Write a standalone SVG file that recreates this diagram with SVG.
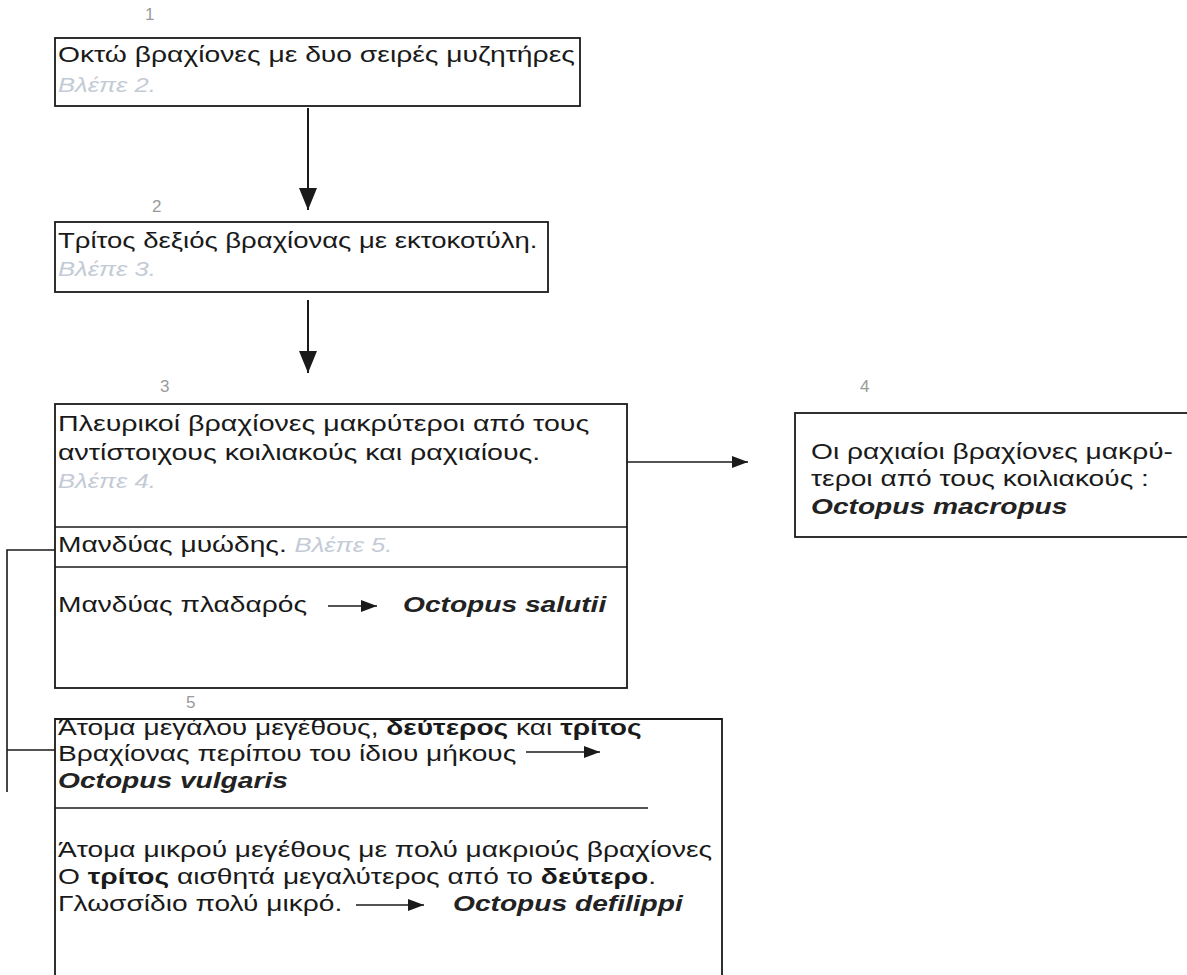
<svg xmlns="http://www.w3.org/2000/svg" width="1187" height="975" viewBox="0 0 1187 975">
<style>
text{font-family:"Liberation Sans",Arial,sans-serif;fill:#1a1a1a;font-size:22px}
.num{fill:#9a9a9a;font-size:17px}
.ref{fill:#c3cbd6;font-style:italic;font-size:20px}
.sp{font-weight:bold;font-style:italic;fill:#222}
.b{font-weight:bold}
.box{fill:none;stroke:#1a1a1a;stroke-width:1.8}
.ln{fill:none;stroke:#1a1a1a;stroke-width:1.6}
.vln{fill:none;stroke:#1a1a1a;stroke-width:2}
</style>
<defs>
<marker id="big" viewBox="0 0 22 18" refX="22" refY="9" markerWidth="22" markerHeight="18" markerUnits="userSpaceOnUse" orient="auto">
<path d="M0,0 L22,9 L0,18 Z" fill="#1a1a1a"/>
</marker>
<marker id="sm" viewBox="0 0 16 12" refX="16" refY="6" markerWidth="16" markerHeight="12" markerUnits="userSpaceOnUse" orient="auto">
<path d="M0,0 L16,6 L0,12 Z" fill="#1a1a1a"/>
</marker>
</defs>
<rect width="1187" height="975" fill="#fff"/>
<g id="node1">
<text class="num" x="145" y="20">1</text>
<rect class="box" x="55" y="38" width="525" height="68"/>
<text transform="translate(58,62) scale(1.285,1)">Οκτώ βραχίονες με δυο σειρές μυζητήρες</text>
<text class="ref" transform="translate(58,92) scale(1.28,1)">Βλέπε 2.</text>
</g>
<g id="node2">
<text class="num" x="152" y="212">2</text>
<rect class="box" x="55" y="222" width="493" height="70"/>
<text transform="translate(58,248) scale(1.25,1)">Τρίτος δεξιός βραχίονας με εκτοκοτύλη.</text>
<text class="ref" transform="translate(58,276) scale(1.28,1)">Βλέπε 3.</text>
</g>
<g id="node3">
<text class="num" x="160" y="392">3</text>
<rect class="box" x="55" y="404" width="572" height="284"/>
<line class="ln" x1="55" y1="527" x2="627" y2="527"/>
<line class="ln" x1="55" y1="567" x2="627" y2="567"/>
<text transform="translate(58,431) scale(1.3,1)">Πλευρικοί βραχίονες μακρύτεροι από τους</text>
<text transform="translate(58,460) scale(1.3,1)">αντίστοιχους κοιλιακούς και ραχιαίους.</text>
<text class="ref" transform="translate(58,488) scale(1.28,1)">Βλέπε 4.</text>
<text transform="translate(58,552) scale(1.28,1)">Μανδύας μυώδης. <tspan class="ref">Βλέπε 5.</tspan></text>
<text transform="translate(58,612) scale(1.28,1)">Μανδύας πλαδαρός</text>
<text class="sp" transform="translate(403,612) scale(1.28,1)">Octopus salutii</text>
</g>
<g id="node4">
<text class="num" x="860" y="392">4</text>
<rect class="box" x="795" y="413" width="400" height="124"/>
<text transform="translate(811,459) scale(1.28,1)">Οι ραχιαίοι βραχίονες μακρύ-</text>
<text transform="translate(811,486) scale(1.28,1)">τεροι  από τους κοιλιακούς :</text>
<text class="sp" transform="translate(811,514) scale(1.28,1)">Octopus macropus</text>
</g>
<g id="node5">
<text class="num" x="186" y="708">5</text>
<path class="box" d="M55,975 V719 H722 V975"/>
<line class="ln" x1="55" y1="808" x2="648" y2="808"/>
<text transform="translate(58,735) scale(1.28,1)">Άτομα μεγάλου μεγέθους, <tspan class="b">δεύτερος</tspan> και <tspan class="b">τρίτος</tspan></text>
<text transform="translate(58,761) scale(1.28,1)">Βραχίονας περίπου του ίδιου μήκους</text>
<text class="sp" transform="translate(58,788) scale(1.28,1)">Octopus vulgaris</text>
<text transform="translate(58,857) scale(1.28,1)">Άτομα μικρού μεγέθους με πολύ μακριούς βραχίονες</text>
<text transform="translate(58,884) scale(1.28,1)">Ο <tspan class="b">τρίτος</tspan> αισθητά μεγαλύτερος από το <tspan class="b">δεύτερο</tspan>.</text>
<text transform="translate(58,911) scale(1.28,1)">Γλωσσίδιο πολύ μικρό.</text>
<text class="sp" transform="translate(453,911) scale(1.28,1)">Octopus defilippi</text>
</g>
<g id="connectors">
<line class="vln" x1="308" y1="108" x2="308" y2="210" marker-end="url(#big)"/>
<line class="vln" x1="308" y1="300" x2="308" y2="373" marker-end="url(#big)"/>
<line class="ln" x1="627" y1="462" x2="748" y2="462" marker-end="url(#sm)"/>
<line class="ln" x1="328" y1="606" x2="377" y2="606" marker-end="url(#sm)"/>
<line class="ln" x1="526" y1="752" x2="600" y2="752" marker-end="url(#sm)"/>
<line class="ln" x1="356" y1="905" x2="424" y2="905" marker-end="url(#sm)"/>
<path class="ln" d="M55,550 H7 V792 M7,750 H55"/>
</g>
</svg>
